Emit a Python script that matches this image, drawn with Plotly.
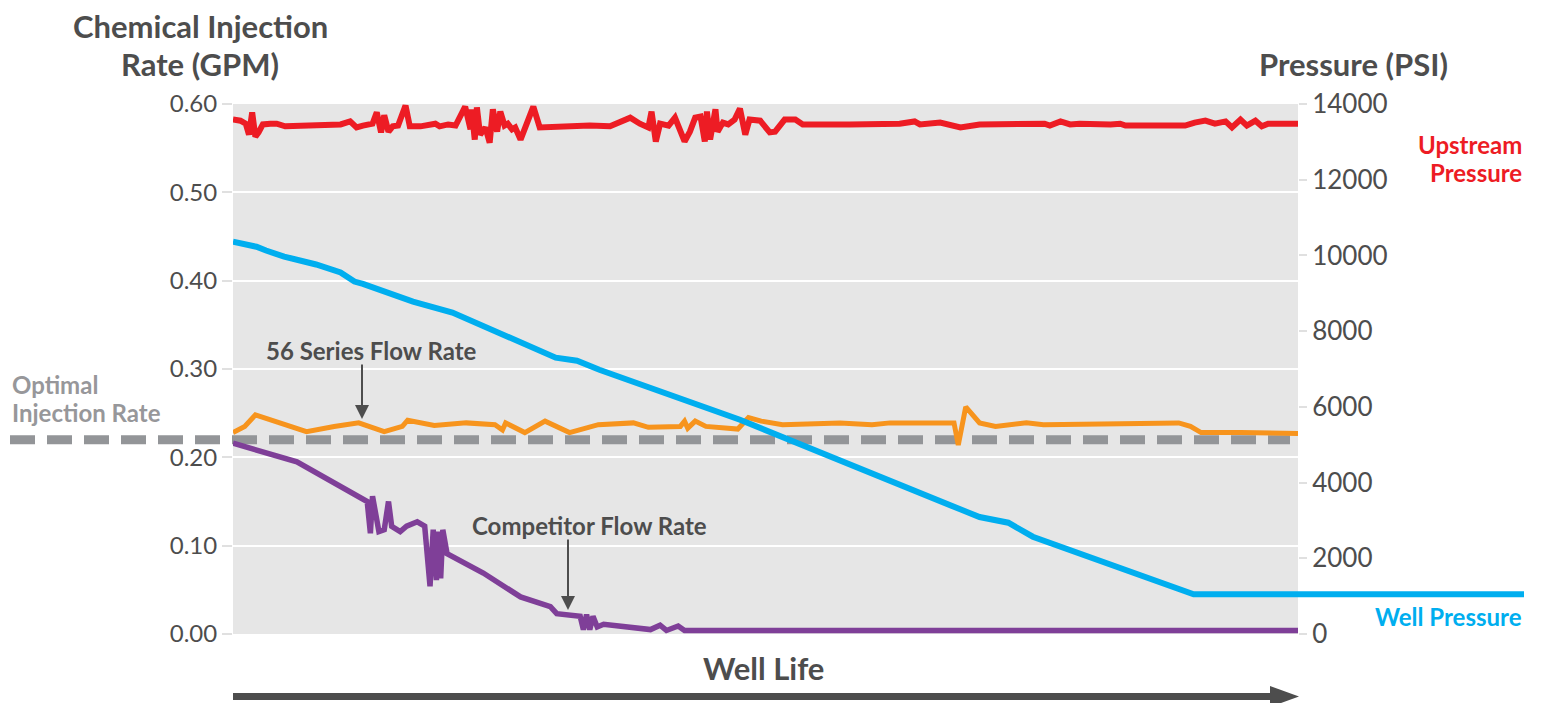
import plotly.graph_objects as go

# ---------------- data ----------------
# Well life (arbitrary 0-100 scale)
upstream_x = [0, 0.7, 1.2, 1.5, 1.8, 2.1, 2.4, 2.8, 3.5, 4.1,
              4.9, 10.1, 11.0, 11.6, 12.2, 13.1, 13.5, 13.9, 14.2, 14.6,
              15.0, 15.5, 16.2, 16.6, 17.6, 19.0, 19.4, 20.2, 20.9, 21.8,
              22.3, 22.4, 22.7, 22.9, 23.2, 23.7, 24.1, 24.4, 24.8, 25.1,
              25.5, 25.8, 26.2, 26.5, 27.0, 27.6, 28.2, 28.8, 30.7, 33.5,
              35.4, 37.3, 38.2, 39.0, 39.3, 39.7, 40.1, 40.9, 41.5, 42.0,
              42.4, 42.9, 43.4, 43.9, 44.3, 44.5, 44.8, 45.3, 45.5, 46.0,
              46.5, 47.1, 47.6, 48.1, 48.5, 49.5, 50.4, 50.9, 51.8, 52.8,
              53.5, 57.9, 62.6, 64.0, 64.5, 66.4, 68.3, 70.1, 74.8, 76.2,
              76.7, 77.7, 78.6, 79.5, 82.4, 83.3, 83.8, 89.4, 90.3, 91.3,
              92.2, 93.2, 93.8, 94.6, 95.2, 96.0, 96.6, 97.2, 100]
upstream_psi = [13590, 13560, 13480, 13190, 13780, 13140, 13250, 13460, 13480, 13480,
                13410, 13460, 13540, 13380, 13430, 13480, 13780, 13250, 13700, 13270,
                13410, 13430, 13960, 13410, 13410, 13480, 13410, 13460, 13430, 13930,
                13330, 13860, 13060, 13910, 13190, 13380, 12980, 13860, 13270, 13800,
                13430, 13480, 13330, 13380, 13060, 13480, 13930, 13380, 13410, 13430,
                13410, 13640, 13480, 13380, 13800, 13010, 13480, 13430, 13640, 13330,
                13010, 13270, 13640, 13670, 13010, 13800, 13060, 13860, 13270, 13510,
                13460, 13590, 13880, 13190, 13590, 13560, 13250, 13270, 13590, 13590,
                13460, 13460, 13480, 13540, 13460, 13510, 13380, 13460, 13460, 13480,
                13430, 13540, 13460, 13480, 13460, 13480, 13430, 13430, 13510, 13560,
                13480, 13540, 13380, 13590, 13430, 13560, 13410, 13480, 13480]

well_x = [0, 2.2, 3.1, 4.8, 7.8, 10.1, 11.4, 12.2, 16.9, 20.6, 30.3, 32.3, 34.4,
          42.4, 47.6, 68.4, 70.1, 72.8, 75.1, 90.2, 100]
well_psi = [10360, 10230, 10130, 9970, 9760, 9550, 9310, 9250, 8780, 8490, 7300, 7220, 6980,
            6190, 5660, 3280, 3090, 2940, 2570, 1050, 1050]

series56_x = [0, 1.1, 2.1, 4.8, 6.9, 9.5, 11.8, 14.2, 15.9, 16.4, 18.9, 21.9, 24.6, 25.3,
              25.6, 27.4, 29.3, 31.6, 34.3, 37.6, 39.0, 42.0, 42.4, 42.7, 43.4, 44.4,
              47.4, 48.4, 49.6, 51.6, 57.0, 60.0, 61.7, 67.7, 68.1, 68.8, 70.1, 71.6,
              74.5, 76.1, 88.8, 89.9, 90.9, 94.6, 100]
series56_gpm = [0.228, 0.235, 0.248, 0.237, 0.229, 0.235, 0.239, 0.229, 0.235, 0.242,
                0.236, 0.239, 0.237, 0.231, 0.239, 0.228, 0.241, 0.228, 0.237, 0.239,
                0.234, 0.235, 0.241, 0.233, 0.241, 0.235, 0.232, 0.245, 0.241, 0.237,
                0.239, 0.237, 0.239, 0.239, 0.214, 0.257, 0.239, 0.235, 0.239, 0.237,
                0.239, 0.235, 0.228, 0.228, 0.227]

competitor_x = [0, 6.0, 12.6, 12.9, 13.1, 13.7, 14.2, 14.6, 14.9, 15.7, 16.3, 17.3, 18.0,
                18.5, 18.8, 19.1, 19.3, 19.5, 19.7, 20.1, 23.5, 27.0, 29.8, 30.4, 32.6,
                32.9, 33.2, 33.5, 33.8, 34.2, 34.8, 35.7, 39.2, 40.1, 40.7, 41.8, 42.4,
                45.7, 100]
competitor_gpm = [0.216, 0.195, 0.150, 0.114, 0.156, 0.116, 0.118, 0.150, 0.122, 0.116,
                  0.122, 0.127, 0.122, 0.054, 0.118, 0.061, 0.116, 0.063, 0.118, 0.091,
                  0.069, 0.042, 0.031, 0.023, 0.020, 0.005, 0.022, 0.005, 0.020, 0.008,
                  0.011, 0.010, 0.005, 0.010, 0.004, 0.009, 0.004, 0.004, 0.004]

optimal_rate = 0.22
left_ticks = [0.0, 0.1, 0.2, 0.3, 0.4, 0.5, 0.6]
right_ticks = [0, 2000, 4000, 6000, 8000, 10000, 12000, 14000]

# ---------------- style ----------------
FONT = "Lato"
TXT = "#4d4d4d"
RED = "#ed1c24"
BLUE = "#00aeef"
ORANGE = "#f7941d"
PURPLE = "#7f3f98"
DASH = "#939598"

W, H = 1544, 703
BODY = 8                      # page body margin offset
PL, PT, PW, PH = 233, 104, 1065, 530   # plot area in page pixels
L, T = PL - BODY, PT - BODY
R = W - L - PW
B = H - T - PH


def px(xpage):
    return (xpage - PL) / PW


def py(ypage):
    return (PT + PH - ypage) / PH


fig = go.Figure()

fig.add_trace(go.Scatter(x=competitor_x, y=competitor_gpm, mode="lines",
                         line=dict(color=PURPLE, width=5.5), yaxis="y"))
fig.add_trace(go.Scatter(x=series56_x, y=series56_gpm, mode="lines",
                         line=dict(color=ORANGE, width=5), yaxis="y"))
fig.add_trace(go.Scatter(x=well_x, y=well_psi, mode="lines",
                         line=dict(color=BLUE, width=6), yaxis="y2"))
fig.add_trace(go.Scatter(x=upstream_x, y=upstream_psi, mode="lines",
                         line=dict(color=RED, width=6), yaxis="y2"))

shapes = [
    dict(type="line", xref="paper", yref="y", x0=px(10), x1=px(1290),
         y0=optimal_rate, y1=optimal_rate, layer="between",
         line=dict(color=DASH, width=9, dash="25px,12px")),
    dict(type="line", xref="paper", yref="y2", x0=1, x1=px(1524),
         y0=well_psi[-1], y1=well_psi[-1], line=dict(color=BLUE, width=6)),
    dict(type="line", xref="paper", yref="paper", x0=0, x1=px(1275),
         y0=py(696.5), y1=py(696.5), line=dict(color=TXT, width=7)),
    dict(type="path", xref="paper", yref="paper",
         path=f"M {px(1270)},{py(686)} L {px(1299)},{py(696.5)} L {px(1270)},{py(707)} Z",
         fillcolor=TXT, line=dict(color=TXT, width=0)),
]


def label(text, xpage, ypage, size, color=TXT, anchor="center"):
    return dict(text=f"<b>{text}</b>", x=px(xpage), y=py(ypage), xref="paper",
                yref="paper", xanchor=anchor, yanchor="middle", showarrow=False,
                font=dict(size=size, color=color, family=FONT))


ann = [
    label("Chemical Injection", 200, 26, 31),
    label("Rate (GPM)", 200, 64, 31),
    label("Pressure (PSI)", 1353, 64, 31),
    label("Well Life", 763, 668, 31),
    label("56 Series Flow Rate", 371, 350, 24),
    label("Competitor Flow Rate", 589, 525, 24),
    label("Optimal", 10, 384, 24, "#97979a", "left"),
    label("Injection Rate", 10, 412, 24, "#97979a", "left"),
    label("Upstream", 1524, 144, 24, RED, "right"),
    label("Pressure", 1524, 172, 24, RED, "right"),
    label("Well Pressure", 1524, 616, 24, BLUE, "right"),
    dict(text="", x=px(362), y=py(419), ax=0, ay=-56, showarrow=True,
         xref="paper", yref="paper",
         arrowhead=2, arrowsize=1.4, arrowwidth=2, arrowcolor=TXT),
    dict(text="", x=px(568), y=py(610), ax=0, ay=-72, showarrow=True,
         xref="paper", yref="paper",
         arrowhead=2, arrowsize=1.4, arrowwidth=2, arrowcolor=TXT),
]

fig.update_layout(
    width=W, height=H,
    margin=dict(l=L, r=R, t=T, b=B, pad=0),
    paper_bgcolor="white",
    plot_bgcolor="#e6e6e6",
    showlegend=False,
    font=dict(family=FONT, color=TXT),
    xaxis=dict(range=[0, 100], showgrid=False, zeroline=False, showticklabels=False,
               ticks="", showline=False, fixedrange=True),
    yaxis=dict(range=[0, 0.6], tickvals=left_ticks, tickformat=".2f",
               showgrid=True, gridcolor="white", gridwidth=2, zeroline=False,
               ticks="outside", ticklen=10, tickwidth=2, tickcolor="#e0e0e0",
               tickfont=dict(size=24, color=TXT, family=FONT), showline=False),
    yaxis2=dict(range=[0, 14000], tickvals=right_ticks, tickformat="d",
                overlaying="y", side="right", showgrid=False, zeroline=False,
                ticks="outside", ticklen=8, tickwidth=2, tickcolor="#e0e0e0",
                tickfont=dict(size=26, color=TXT, family=FONT), showline=False),
    shapes=shapes,
    annotations=ann,
)

fig.write_html("out.html")
